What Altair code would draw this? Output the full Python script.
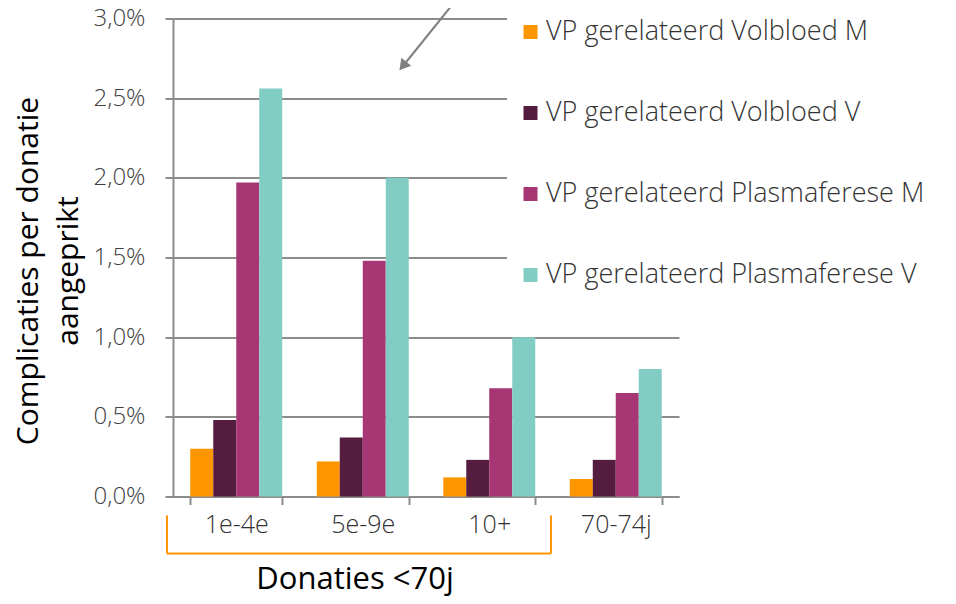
import altair as alt
import pandas as pd

categories = ["1e-4e", "5e-9e", "10+", "70-74j"]
series = [
    "VP gerelateerd Volbloed M",
    "VP gerelateerd Volbloed V",
    "VP gerelateerd Plasmaferese M",
    "VP gerelateerd Plasmaferese V",
]
colors = ["#FF9600", "#541D3F", "#A63674", "#82CDC3"]
values_volbloed_m = [0.30, 0.22, 0.12, 0.11]
values_volbloed_v = [0.48, 0.37, 0.23, 0.23]
values_plasma_m = [1.97, 1.48, 0.68, 0.65]
values_plasma_v = [2.56, 2.00, 1.00, 0.80]
y_ticks = [0.0, 0.5, 1.0, 1.5, 2.0, 2.5, 3.0]

rows = []
for s, vals in zip(series, [values_volbloed_m, values_volbloed_v, values_plasma_m, values_plasma_v]):
    for c, v in zip(categories, vals):
        rows.append({"cat": c, "serie": s, "waarde": v})
df = pd.DataFrame(rows)

FONT = "Open Sans"
W, H = 506, 478

bars = alt.Chart(df).mark_bar().encode(
    x=alt.X("cat:N", sort=categories,
            scale=alt.Scale(paddingInner=0.273, paddingOuter=0.1365),
            axis=alt.Axis(title=None, labelAngle=0, tickBand="extent", tickSize=8,
                          tickColor="#8c8c8c", tickWidth=2, domainColor="#8c8c8c",
                          domainWidth=2, labelFont=FONT, labelFontSize=25,
                          labelFontWeight=300, labelColor="#333333", labelPadding=8,
                          grid=False)),
    xOffset=alt.XOffset("serie:N", sort=series, scale=alt.Scale(paddingInner=0, paddingOuter=0)),
    y=alt.Y("waarde:Q", scale=alt.Scale(domain=[0, 3], nice=False),
            axis=alt.Axis(values=y_ticks,
                          labelExpr="replace(format(datum.value, '.1f'), '.', ',') + '%'",
                          title=["Complicaties per donatie", "aangeprikt"],
                          titleFont=FONT, titleFontSize=30, titleFontWeight=400,
                          titleColor="#000000", titleAngle=270, titleX=-145, titleY=252,
                          titleAlign="center", titleBaseline="middle", titleLineHeight=40,
                          labelFont=FONT, labelFontSize=24, labelFontWeight=300,
                          labelColor="#404040", labelPadding=20, tickSize=8,
                          tickColor="#8c8c8c", tickWidth=2, domainColor="#8c8c8c",
                          domainWidth=2, gridColor="#8c8c8c", gridWidth=2)),
    color=alt.Color("serie:N", sort=series,
                    scale=alt.Scale(domain=series, range=colors),
                    legend=alt.Legend(title=None, orient="none", legendX=334, legendY=-10,
                                      fillColor="white", padding=10, symbolType="square",
                                      symbolSize=196, symbolStrokeWidth=0, labelFont=FONT,
                                      labelFontSize=27, labelFontWeight=300,
                                      labelColor="#333333", labelOffset=2, rowPadding=53,
                                      labelLimit=500)),
)

orange = "#FF9600"
br_left = alt.Chart().mark_rule(color=orange, strokeWidth=2).encode(
    x=alt.value(-6), y=alt.value(497), y2=alt.value(535))
br_right = alt.Chart().mark_rule(color=orange, strokeWidth=2).encode(
    x=alt.value(378), y=alt.value(497), y2=alt.value(535))
br_bottom = alt.Chart().mark_rule(color=orange, strokeWidth=2).encode(
    x=alt.value(-6), x2=alt.value(378), y=alt.value(535))

group_label = alt.Chart().mark_text(
    text="Donaties <70j", font=FONT, fontSize=31, color="#000000",
    align="center", baseline="alphabetic").encode(
    x=alt.value(182), y=alt.value(570))

arrow_line = alt.Chart().mark_rule(color="#808080", strokeWidth=2).encode(
    x=alt.value(277), y=alt.value(-11), x2=alt.value(232), y2=alt.value(45))
arrow_head = alt.Chart().mark_point(
    shape="triangle", filled=True, color="#808080", size=160, angle=219, opacity=1).encode(
    x=alt.value(231), y=alt.value(46))

chart = alt.layer(bars, br_left, br_right, br_bottom, group_label, arrow_line, arrow_head).properties(
    width=W, height=H,
    background="white",
    autosize=alt.AutoSizeParams(type="none"),
    padding={"left": 165, "top": 10.5, "right": 269, "bottom": 99.5},
).configure_view(stroke=None)

chart.save("out.html", embed_options={"renderer": "svg", "actions": False})
